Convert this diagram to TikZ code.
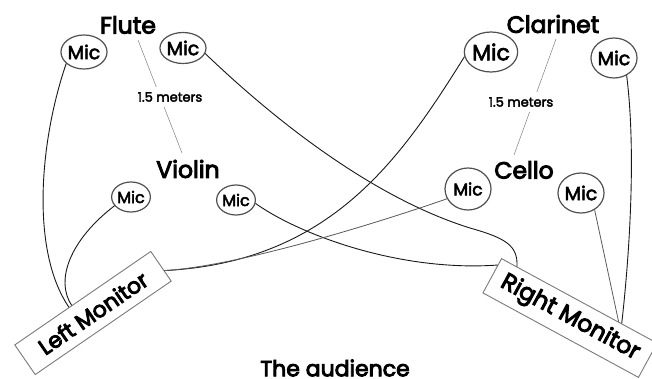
\documentclass[tikz,border=0pt]{standalone}
\usepackage{fontspec}
\setmainfont{Poppins}
\newfontfamily\medfont{Poppins}[FakeBold=4]
\newfontfamily\micfont{Poppins}[FakeBold=3]
\usetikzlibrary{shapes.geometric,calc}
\definecolor{micgray}{HTML}{505050}
\definecolor{boxgray}{HTML}{7A7A7A}
\begin{document}
\begin{tikzpicture}[x=1pt,y=-1pt,
  mic/.style={draw=micgray,line width=1.2pt,ellipse,inner sep=0pt},
  wire/.style={line width=0.9pt,black!90},
  lwire/.style={line width=0.8pt,black!65},
  dist/.style={draw=gray,line width=0.5pt},
  inst/.style={font=\fontsize{23.5}{27}\selectfont\medfont,inner sep=0pt},
  lab/.style={fill=white,font=\fontsize{13}{14}\selectfont\micfont,inner xsep=1pt,inner ysep=5pt},
  mon/.style={draw=boxgray,line width=0.9pt,inner sep=0pt,fill=white},
]
\clip (0,0) rectangle (652,379);
\fill[white] (0,0) rectangle (652,379);

% instrument names
\node[inst] (flute) at (128,25) {Flute};
\node[inst] (violin) at (188,169) {Violin};
\node[inst] (clarinet) at (553,24) {Clarinet};
\node[inst] (cello) at (524,170) {Cello};

% distance lines
\coordinate (fv1) at (138,40); \coordinate (fv2) at (182,153);
\coordinate (cc1) at (556,39); \coordinate (cc2) at (514,155);
\draw[dist] (fv1) -- (fv2);
\draw[dist] (cc1) -- (cc2);
\node[lab] (d1) at (170,97) {1.5 meters};
\node[lab] (d2) at (521,102) {1.5 meters};

% mics
\node[mic,minimum width=38pt,minimum height=34pt,font=\fontsize{19}{20}\selectfont\micfont] (mFL) at (84,52) {Mic};
\node[mic,minimum width=38pt,minimum height=31pt,font=\fontsize{19}{20}\selectfont\micfont] (mFR) at (183,48) {Mic};
\node[mic,minimum width=32pt,minimum height=30pt,font=\fontsize{16}{17}\selectfont\micfont] (mVL) at (131,197) {Mic};
\node[mic,minimum width=35pt,minimum height=30pt,font=\fontsize{16}{17}\selectfont\micfont] (mVR) at (236,200) {Mic};
\node[mic,minimum width=40pt,minimum height=40pt,font=\fontsize{22}{23}\selectfont\micfont] (mCLL) at (491,52) {Mic};
\node[mic,minimum width=42pt,minimum height=40pt,font=\fontsize{19}{20}\selectfont\micfont] (mCLR) at (614,58) {Mic};
\node[mic,minimum width=46pt,minimum height=42pt,font=\fontsize{17}{18}\selectfont\micfont] (mCeL) at (468,189) {Mic};
\node[mic,minimum width=42pt,minimum height=40pt,font=\fontsize{19}{20}\selectfont\micfont] (mCeR) at (581,193) {Mic};

% monitors
\node[mon,rotate=34.5,minimum width=165pt,minimum height=36pt,font=\fontsize{22}{24}\selectfont\medfont] (LM) at (93,313) {Left Monitor};
\node[mon,rotate=-28.5,minimum width=177pt,minimum height=39pt,font=\fontsize{23.5}{25}\selectfont\medfont] (RM) at (570,318) {Right Monitor};

\coordinate (LMa) at ($(LM.north west)!0.40!(LM.north east)$);
\coordinate (LMb) at ($(LM.north west)!0.42!(LM.north east)$);
\coordinate (LMe) at ($(LM.north east)!0.65!(LM.south east)$);
\coordinate (RMf) at ($(RM.north west)!0.10!(RM.north east)$);
\coordinate (RMv) at ($(RM.north west)!0.20!(RM.south west)$);
\coordinate (RMc) at ($(RM.north west)!0.75!(RM.north east)$);
\coordinate (RMk) at ($(RM.north west)!0.77!(RM.north east)$);
\coordinate (bend) at (470,228);

% wires
\draw[wire] (mFL.213) .. controls (40,140) and (30,250) .. (LMa);
\draw[wire] (mVL.208) .. controls (70,240) and (55,280) .. (LMb);
\draw[wire] (mFR.346) .. controls (285,130) and (380,200) .. (bend) .. controls (505,238) and (518,245) .. (RMf);
\draw[wire] (mVR.350) .. controls (300,235) and (400,272) .. (RMv);
\draw[wire] (LMe) .. controls (330,262) and (400,160) .. (mCLL.190);
\draw[lwire] (LMe) .. controls (240,266) and (380,222) .. (mCeL.205);
\draw[wire] (mCLR.306) .. controls (636,150) and (630,250) .. (RMk);
\draw[lwire] (mCeR.309) -- (RMc);

% audience
\node[font=\fontsize{22}{24}\selectfont\medfont,inner sep=0pt] (aud) at (335,368) {The audience};
\end{tikzpicture}
\end{document}
